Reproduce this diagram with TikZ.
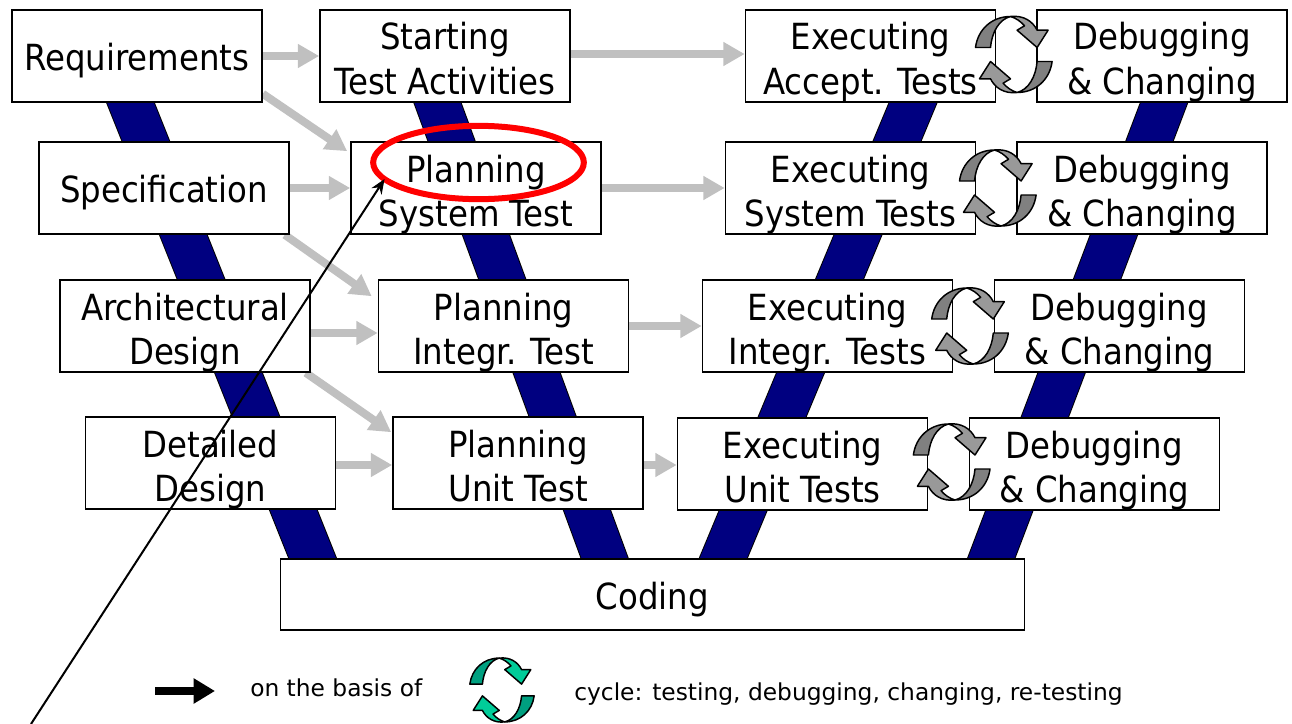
\documentclass[tikz,border=0pt]{standalone}
\usepackage{fontspec}
\setmainfont{DejaVu Sans Condensed}
\newfontfamily\legendfont{DejaVu Sans}
\usepackage{tikz}
\usetikzlibrary{arrows,arrows.meta,shapes,backgrounds}
\definecolor{band_blue}{RGB}{0,0,128}
\definecolor{arrow_gray}{RGB}{192,192,192}
\definecolor{cycle_dark}{RGB}{128,128,128}
\definecolor{cycle_light}{RGB}{153,153,153}
\definecolor{legend_dark}{RGB}{0,160,128}
\definecolor{legend_light}{RGB}{0,204,153}
\definecolor{ring_red}{RGB}{255,0,0}

\newcommand{\steplines}[2]{\raisebox{0pt}[25.5pt][34.5pt]{\begin{tabular}[t]{@{}c@{}}#1\\#2\end{tabular}}}
\newcommand{\cyclehalf}[2]{
  \draw[cycleline,fill=#2] (-3.3,-38) .. controls (10,-39.5) and (19,-33) .. (23.3,-24.3)
    -- (34.3,-24.3) -- (23.3,-7) -- (3.3,-24.3) -- (10.7,-28.7)
    .. controls (7,-33) and (2,-36.5) .. (-3.3,-38) -- cycle;
  \draw[cycleline,fill=#1] (-38.3,-7) .. controls (-36,-25) and (-22,-38) .. (-3.3,-38)
    .. controls (-15,-35) and (-22,-22) .. (-23.3,-7) -- cycle;
}
\newcommand{\cycleicon}[5]{
  \begin{scope}[shift={(#1,#2)},scale=#3]
    \cyclehalf{#4}{#5}
    \begin{scope}[rotate=180]
      \cyclehalf{#4}{#5}
    \end{scope}
  \end{scope}
}

\begin{document}
\begin{tikzpicture}[x=0.75pt,y=-0.75pt,>=stealth']
    \tikzstyle{stepbox}=[draw=black, line width=1.2pt, fill=white, text=black, minimum width=187.5pt, minimum height=69pt, inner sep=0pt, font=\fontsize{27}{33.5}\selectfont]
    \tikzstyle{onebox}=[style=stepbox, execute at begin node={\rule{0pt}{29.3pt}}, execute at end node={\rule[-7pt]{0pt}{0pt}}]
    \tikzstyle{codingbox}=[style=onebox, minimum width=558pt, minimum height=53pt]
    \tikzstyle{legendtext}=[text=black, inner sep=0pt, font=\legendfont\fontsize{17.5}{21}\selectfont]
    \tikzstyle{ring}=[draw=ring_red, ellipse, line width=4.5pt, minimum width=158pt, minimum height=55pt, inner sep=0pt, outer sep=0pt]
    \tikzstyle{band}=[draw=black, line width=0.75pt, double=band_blue, double distance=32.5pt, shorten <=-12pt, shorten >=-12pt]
    \tikzstyle{grayarrow}=[draw=arrow_gray, line width=6pt, -{Triangle[length=16pt,width=17pt]}]
    \tikzstyle{basisarrow}=[draw=black, line width=6pt, -{Triangle[length=16pt,width=18pt]}]
    \tikzstyle{cycleline}=[draw=black, line width=1.1pt, line join=round]
    \useasboundingbox (0,0) rectangle (1292,724);

    \node[onebox] (req) at (137,56) {Requirements};
    \node[stepbox] (start) at (445,56) {\steplines{Starting}{Test Activities}};
    \node[stepbox] (execA) at (870.5,56) {\steplines{Executing}{Accept. Tests}};
    \node[stepbox] (debugA) at (1162,56) {\steplines{Debugging}{\& Changing}};

    \node[onebox] (spec) at (164,188) {Specification};
    \node[stepbox] (planS) at (476,188) {\steplines{Planning}{System Test}};
    \node[stepbox] (execS) at (850.5,188) {\steplines{Executing}{System Tests}};
    \node[stepbox] (debugS) at (1142,188) {\steplines{Debugging}{\& Changing}};

    \node[stepbox] (arch) at (185,326) {\steplines{Architectural}{Design}};
    \node[stepbox] (planI) at (503.5,326) {\steplines{Planning}{Integr. Test}};
    \node[stepbox] (execI) at (827.5,326) {\steplines{Executing}{Integr. Tests}};
    \node[stepbox] (debugI) at (1119.5,326) {\steplines{Debugging}{\& Changing}};

    \node[stepbox] (det) at (210.5,463) {\steplines{Detailed}{Design}};
    \node[stepbox] (planU) at (518,463) {\steplines{Planning}{Unit Test}};
    \node[stepbox] (execU) at (802.5,464) {\steplines{Executing}{Unit Tests}};
    \node[stepbox] (debugU) at (1094.5,464) {\steplines{Debugging}{\& Changing}};

    \node[codingbox] (coding) at (652.5,594.5) {Coding};

    \begin{scope}[on background layer]
      \draw[band] ([shift={(-6.5,0)}]req.south) -- ([shift={(33,0)}]coding.north west);
      \draw[band] ([shift={(-7.5,0)}]start.south) -- ([shift={(325,0)}]coding.north west);
      \draw[band] ([shift={(42.5,0)}]execA.south) -- ([shift={(443.5,0)}]coding.north west);
      \draw[band] ([shift={(2,0)}]debugA.south) -- ([shift={(711.5,0)}]coding.north west);

      \draw[grayarrow] (req.east) -- (start.west);
      \draw[grayarrow] ([shift={(0,-2)}]start.east) -- ([shift={(0,-2)}]execA.west);
      \draw[grayarrow] ([shift={(0,-9)}]req.south east) -- ([shift={(-3,10)}]planS.north west);
      \draw[grayarrow] (spec.east) -- (planS.west);
      \draw[grayarrow] (planS.east) -- (execS.west);
      \draw[grayarrow] ([shift={(-5,0)}]spec.south east) -- ([shift={(-6,17)}]planI.north west);
      \draw[grayarrow] ([shift={(0,7)}]arch.east) -- ([shift={(0,7)}]planI.west);
      \draw[grayarrow] (planI.east) -- (execI.west);
      \draw[grayarrow] ([shift={(-5,0)}]arch.south east) -- ([shift={(-1,16)}]planU.north west);
      \draw[grayarrow] ([shift={(0,2)}]det.east) -- ([shift={(0,2)}]planU.west);
      \draw[grayarrow] ([shift={(0,2)}]planU.east) -- ([shift={(0,1)}]execU.west);
    \end{scope}

    \cycleicon{1013.8}{54.5}{1}{cycle_dark}{cycle_light}
    \cycleicon{997.8}{188}{1}{cycle_dark}{cycle_light}
    \cycleicon{970}{326}{1}{cycle_dark}{cycle_light}
    \cycleicon{951.7}{462}{1}{cycle_dark}{cycle_light}

    % marked activity
    \node[ring] (mark) at (478.5,162.5) {};
    \coordinate (lineStart) at (31,724);
    \draw[-{Stealth[length=11pt,width=9pt]},line width=1.5pt] (lineStart) -- (mark.190);

    % legend
    \coordinate (basisA) at (155,691);
    \coordinate (basisB) at (215,691);
    \draw[basisarrow] (basisA) -- (basisB);
    \node[legendtext,anchor=west] (basis) at (250,688) {on the basis of};
    \cycleicon{502}{690}{0.84}{legend_dark}{legend_light}
    \node[legendtext,anchor=west] (cycletext) at (574,694) {cycle: testing, debugging, changing, re-testing};
\end{tikzpicture}
\end{document}
